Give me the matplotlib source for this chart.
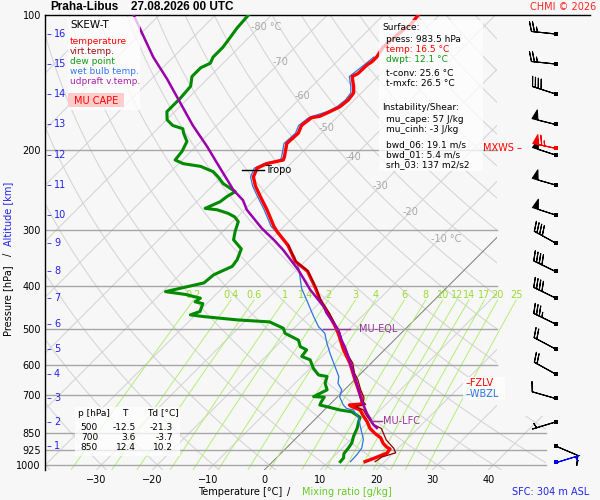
# coding:utf-8
import numpy as np
import matplotlib
matplotlib.use("Agg")
from matplotlib import pyplot as plt
from matplotlib import transforms as mtransforms
from matplotlib.patches import Polygon, Rectangle
from matplotlib.ticker import NullLocator

plt.rcParams['font.family'] = ['DejaVu Sans']
plt.rcParams['font.size'] = 7

# ---- sounding (hPa / degC) ----
t_p = [983.5, 965, 941, 922, 912, 896, 870, 851, 829, 801, 778, 755, 742, 736, 732, 709, 681,
       647, 594, 555, 510, 492, 460, 430, 404, 371, 353, 325, 303, 295, 271, 253, 240, 229,
       219, 214, 210, 207, 193, 183, 176, 169, 168, 164, 160, 154.5, 149, 144, 137, 135, 129,
       127, 124, 118, 113, 108, 105, 100]
t_val = [16.5, 17.6, 18.9, 18.7, 17.7, 16.5, 15.0, 13.2, 11.4, 9.7, 8.0, 6.4, 4.3, 3.6, 5.7, 4.4, 2.5,
         0.1, -3.8, -7.3, -11.2, -13.0, -16.6, -20.4, -23.4, -27.8, -31.7, -35.9, -40.3, -41.8, -46.0, -49.6, -52.3, -54.3,
         -55.2, -54.3, -52.0, -52.3, -54.3, -54.1, -54.9, -54.5, -53.3, -52.3, -51.4, -51.1, -51.4, -52.6, -54.6, -54.1, -54.0,
         -53.7, -53.7, -54.3, -54.1, -53.8, -53.4, -53.8]

tv_p = [983.5, 960, 940, 918, 880, 830, 811, 778, 755, 742, 734, 724, 709, 681, 647, 625, 594, 576,
        555, 528, 510, 492, 460, 430, 404, 371, 353, 325]
tv_val = [18.3, 18.7, 20.4, 19.2, 16.4, 13.5, 11.1, 8.6, 7.0, 5.0, 6.4, 5.5, 4.9, 2.9, 0.6, -1.2, -3.3, -5.0,
          -6.9, -9.4, -10.9, -12.8, -16.4, -20.3, -23.3, -27.7, -31.6, -35.8]

td_p = [983.5, 965, 944, 918, 894, 863, 828, 801, 784, 775, 762, 755, 742, 736, 724, 707, 705, 681, 659, 636,
        631, 610, 584, 574, 555, 546, 528, 510, 497, 481, 476, 472, 468, 464, 456, 438, 434, 426, 418, 412,
        394, 378, 362, 350, 331, 316, 303, 288, 281, 276, 271, 269, 260, 253, 247, 237, 229, 223, 217, 214,
        210, 201, 191, 183, 179, 176, 171, 164, 159, 153, 144, 137, 131, 128, 124, 118, 114, 107, 100]
td_val = [12.1, 12.0, 11.3, 11.1, 10.8, 9.9, 9.1, 8.2, 7.7, 6.7, 5.2, 2.8, -0.2, -1.7, -2.0, -2.3, -4.3, -3.1, -4.6, -5.5,
          -7.3, -9.4, -11.5, -13.6, -13.9, -15.6, -17.1, -20.7, -21.9, -25.5, -31.7, -35.0, -38.3, -40.9, -39.8, -40.7, -42.4, -42.1, -45.4, -49.5,
          -44.2, -43.9, -42.1, -42.4, -43.6, -46.6, -47.8, -49.0, -50.5, -52.3, -54.9, -57.3, -55.8, -55.5, -54.9, -58.5, -60.6, -62.4, -65.6, -69.2,
          -71.3, -71.6, -72.5, -74.6, -75.5, -77.9, -79.9, -81.4, -81.4, -81.4, -81.7, -83.2, -83.2, -82.3, -82.9, -82.9, -83.2, -83.8, -84.1]

tw_p = [983.5, 950, 918, 877, 849, 822, 789, 755, 749, 736, 706, 681, 659, 636, 594, 565, 536, 510, 493, 468,
        430, 405, 368, 345, 333, 311, 295, 271, 253, 240, 229, 219, 214, 210, 207, 193, 183, 176, 169, 164,
        160, 154.5, 149, 144, 137, 129, 124]
tw_val = [13.9, 13.8, 13.5, 12.2, 10.8, 9.4, 7.7, 5.2, 3.7, 2.5, 0.4, -0.5, -2.3, -3.4, -6.7, -9.1, -11.5, -13.6, -15.9, -18.6,
          -22.8, -25.8, -29.6, -32.6, -34.7, -38.6, -42.3, -46.5, -50.1, -52.8, -54.8, -55.7, -54.8, -52.5, -52.8, -54.8, -54.6, -55.4, -55.0, -52.8,
          -51.9, -51.6, -51.9, -53.1, -55.1, -54.5, -54.2]

par_p = [828, 814, 792, 768, 736, 706, 676, 642, 609, 579, 550, 528, 501, 459, 446, 408, 369, 333, 317, 298,
         271, 258, 245, 219, 196, 176, 157, 139, 124, 109, 100]
par_val = [12.6, 11.4, 9.9, 8.2, 6.1, 4.1, 2.2, -0.2, -2.6, -4.9, -7.3, -9.4, -11.8, -17.0, -18.4, -24.0, -29.6, -35.9, -39.2, -43.6,
           -49.6, -52.0, -55.5, -61.8, -68.0, -74.3, -80.5, -87.1, -93.6, -100.2, -104.6]

# heights 1..16 km, their pressure, and the wind there (deg, kt)
alt_km = list(range(1, 17))
alt_p = [907.6, 802.8, 711.7, 628.0, 552.5, 486.2, 425.6, 371.6, 321.2, 278.3, 238.7, 204.7, 175.1, 149.8, 128.5, 110.2]
wind_dir = [113, 253, 286, 299, 298, 296, 296, 296, 299, 288, 286, 288, 284, 288, 276, 276]
wind_spd = [10, 5, 10, 20, 20, 35, 40, 40, 40, 50, 50, 50, 50, 40, 25, 25]
sfc_p, sfc_dir, sfc_spd = 983.5, 73, 5
mxws_p, mxws_dir, mxws_spd = 197.5, 282, 65

# special levels
tropo_p = 221
lfc_p = 797.5
eql_p = 499.5
fzlv_p = 656
wbzl_p = 696

# surface / index values and the small table
sfc_temp, sfc_dwpt = 16.5, 12.1
t_conv, t_mxfc = 25.6, 26.5
mu_cape, mu_cinh = 57, -3
bwd_06, bwd_01, srh_03 = 19.1, 5.4, 137
tab_p = [500, 700, 850]
tab_t = [-12.5, 3.6, 12.4]
tab_td = [-21.3, -3.7, 10.2]

plevs = [100, 200, 300, 400, 500, 600, 700, 850, 925, 1000]
mr_vals = [0.2, 0.4, 0.6, 1, 1.4, 2, 3, 4, 6, 8, 10, 12, 14, 17, 20, 25]
iso_lab_t = [-80, -70, -60, -50, -40, -30, -20, -10]
iso_lab_p = [106.3, 127.2, 151.5, 178.4, 206.9, 240.0, 274.1, 314.1]

# ---- skew-T geometry ----
P_BOT = 1026.4
SKEW = 34.9
XL, XR = -39.16, 58.16
X_HI, X_LO = 41.55, 50.3
XB = 52.0
BG = '#f7f7f7'


def skx(t, p):
    return np.asarray(t, float) + SKEW * np.log(P_BOT / np.asarray(p, float))


def interp_p(p0, pp, tt):
    return np.interp(np.log(p0), np.log(pp[::-1]), tt[::-1])


fig = plt.figure(figsize=(6, 5), dpi=100, facecolor=BG)
ax = fig.add_axes([45 / 600, 30 / 500, 545 / 600, 455 / 500])
ax.set_facecolor(BG)
ax.set_yscale('log')
ax.set_ylim(P_BOT, 100)
ax.set_xlim(XL, XR)
pix = mtransforms.Affine2D().scale(1 / 600, -1 / 500).translate(0, 1) + fig.transFigure
bl = mtransforms.blended_transform_factory(pix, ax.transData)

# background grid, clipped like the original
clip = Polygon([(XL, P_BOT), (XL, 100), (X_HI, 100), (X_HI, 780), (X_LO, 780), (X_LO, P_BOT)],
               closed=True, transform=ax.transData, fc='none', ec='none')
pp = np.geomspace(100, P_BOT, 80)
for t0 in range(-140, 50, 10):
    if t0 == 0:
        ln, = ax.plot(skx(t0, pp), pp, color='#7a7a7a', lw=0.7, zorder=1.2)
    else:
        ln, = ax.plot(skx(t0, pp), pp, color='#d6d6d6', lw=0.8, zorder=1)
    ln.set_clip_path(clip)
for th in range(-40, 230, 10):
    tt = (th + 273.15) * (pp / 1000.0) ** 0.2857 - 273.15
    ln, = ax.plot(skx(tt, pp), pp, color='#d6d6d6', lw=0.8, zorder=1)
    ln.set_clip_path(clip)

for t0, p0 in zip(iso_lab_t, iso_lab_p):
    if t0 in (-80, -10):
        ax.annotate(f"{t0} °C", (skx(t0, p0), p0), xytext=(-6, 0), textcoords='offset points',
                    ha='left', va='center', color='#a8a8a8', fontsize=7, zorder=2)
    else:
        ax.text(skx(t0, p0), p0, f"{t0}", ha='center', va='center', color='#a8a8a8', fontsize=7, zorder=2)

# mixing ratio lines
pm = np.geomspace(430, P_BOT, 40)
for w in mr_vals:
    e = w * pm / (622.0 + w)
    a = np.log(e / 6.112)
    td = 243.5 * a / (17.67 - a)
    ax.plot(skx(td, pm), pm, color='#b4ee7a', lw=0.7, zorder=1.5)
    ax.text(skx(td[0], 430), 419, f"{w:g}", ha='center', va='center', color='#99dd33', fontsize=7, zorder=2)

# isobars
for p0 in plevs[1:]:
    xe = X_LO if p0 >= 850 else X_HI
    ax.plot([XL, xe], [p0, p0], color='#a6a6a6', lw=1, zorder=1.8)

# CAPE area
pc = np.linspace(730, 772, 40)
te = interp_p(pc, t_p, t_val)
tpar = interp_p(pc, par_p, par_val)
ax.fill_betweenx(pc, skx(te, pc), skx(tpar, pc), where=tpar > te, color='#f3d0c0', lw=0, zorder=3)

# profiles
ax.plot(skx(td_val, td_p), td_p, color='#008a00', lw=2.2, zorder=4)
ax.plot(skx(tw_val, tw_p), tw_p, color='#2f74e0', lw=0.9, zorder=4.5)
ax.plot(skx(t_val, t_p), t_p, color='#ff0000', lw=2.4, zorder=5)
ax.plot(skx(tv_val, tv_p), tv_p, color='#8b0000', lw=0.9, zorder=5.5)
ax.plot(skx(par_val, par_p), par_p, color='#9900aa', lw=1.8, zorder=6)

# tropopause, LFC, EQL
tt_trop = interp_p(tropo_p, t_p, t_val)
xt = skx(tt_trop, tropo_p)
ax.plot([xt - 2.5, xt + 1.4], [tropo_p, tropo_p], color='k', lw=1, zorder=7)
ax.text(xt + 1.6, tropo_p, 'Tropo', ha='left', va='center', fontsize=7, zorder=7)

x_lfc = skx(interp_p(lfc_p, par_p, par_val), lfc_p)
ax.plot([x_lfc, x_lfc + 1.9], [lfc_p, lfc_p], color='#993399', lw=1, zorder=7)
ax.text(x_lfc + 2.2, lfc_p, 'MU-LFC', ha='left', va='center', color='#993399', fontsize=7, zorder=7)
x_eql = skx(interp_p(eql_p, par_p, par_val), eql_p)
ax.plot([x_eql - 2.7, x_eql + 2.1], [eql_p, eql_p], color='#993399', lw=1, zorder=7)
ax.text(x_eql + 3.7, eql_p, 'MU-EQL', ha='left', va='center', color='#993399', fontsize=7, zorder=7)

# FZLV / WBZL
ax.add_patch(Rectangle((463, 377), 42, 23, transform=pix, fc='white', ec='none', alpha=0.75, zorder=7))
ax.text(466, fzlv_p, '–FZLV', transform=bl, color='#ff0000', ha='left', va='center', fontsize=7, zorder=8)
ax.text(466, wbzl_p, '–WBZL', transform=bl, color='#2f74e0', ha='left', va='center', fontsize=7, zorder=8)

# altitude scale
for km, p0 in zip(alt_km, alt_p):
    ax.text(47, p0, '–', transform=bl, color='#2222ee', ha='left', va='center', fontsize=7, zorder=8)
    ax.text(54, p0, str(km), transform=bl, color='#2222ee', ha='left', va='center', fontsize=7, zorder=8)

# wind barbs
d = np.radians(wind_dir)
s = np.array(wind_spd, float)
ax.barbs(np.full(len(alt_p), XB), alt_p, -s * np.sin(d), -s * np.cos(d), length=5.9,
         lw=0.8, color='k', zorder=9, clip_on=False)
ax.scatter(np.full(len(alt_p), XB), alt_p, marker='s', s=5, color='k', lw=0, zorder=10)
dm = np.radians(mxws_dir)
ax.barbs([XB], [mxws_p], [-mxws_spd * np.sin(dm)], [-mxws_spd * np.cos(dm)], length=5.9,
         lw=0.8, color='#ff0000', zorder=9.5, clip_on=False)
ax.scatter([XB], [mxws_p], marker='s', s=5, color='#ff0000', lw=0, zorder=10)
ax.text(483, mxws_p, 'MXWS –', transform=bl, color='#ff0000', ha='left', va='center', fontsize=7, zorder=8)
ds = np.radians(sfc_dir)
ax.barbs([XB], [sfc_p], [-sfc_spd * np.sin(ds)], [-sfc_spd * np.cos(ds)], length=5.9,
         lw=0.8, color='#0000ee', zorder=9.5, clip_on=False)
ax.scatter([XB], [sfc_p], marker='s', s=5, color='#0000ee', lw=0, zorder=10)

# axes cosmetics
ax.set_yticks(plevs, labels=[str(p) for p in plevs])
ax.yaxis.set_minor_locator(NullLocator())
ax.set_xticks([-30, -20, -10, 0, 10, 20, 30, 40])
ax.tick_params(axis='both', length=0, labelsize=7)
ax.tick_params(axis='y', pad=3)
ax.tick_params(axis='x', pad=3.5)
for side in ('right', 'bottom'):
    ax.spines[side].set_visible(False)
for side in ('left', 'top'):
    ax.spines[side].set_linewidth(1)


# text boxes (half transparent white, like the original)
def box(x0, y0, x1, y1, fc='white', alpha=0.75):
    fig.add_artist(Rectangle((x0, y0), x1 - x0, y1 - y0, transform=pix, fc=fc, ec='none',
                             alpha=alpha, zorder=10))


def txt(x, y, s, **kw):
    kw.setdefault('va', 'center')
    kw.setdefault('fontsize', 6.5)
    fig.text(x, y, s, transform=pix, zorder=11, **kw)


box(68, 17, 140, 110)
txt(70, 25, 'SKEW-T', fontsize=7.5)
txt(70, 42, 'temperature', color='#ff0000')
txt(70, 52, 'virt.temp.', color='#a01010')
txt(70, 62, 'dew point', color='#119911')
txt(70, 72, 'wet bulb temp.', color='#3377ee')
txt(70, 82, 'udpraft v.temp.', color='#aa22aa')
box(68, 93, 124, 107, fc='#ffcccc', alpha=1)
txt(96, 100.5, 'MU CAPE', color='#ff0000', ha='center', fontsize=7)

box(379, 20, 483, 171)
txt(382, 28, 'Surface:')
txt(386, 40, f'press: {sfc_p} hPa')
txt(386, 50, f'temp: {sfc_temp} °C', color='#ff0000')
txt(386, 60, f'dwpt: {sfc_dwpt} °C', color='#119911')
txt(386, 74, f't-conv: {t_conv} °C')
txt(386, 84, f't-mxfc: {t_mxfc} °C')
txt(382, 108, 'Instability/Shear:')
txt(386, 119, f'mu_cape: {mu_cape} J/kg')
txt(386, 129, f'mu_cinh: {mu_cinh} J/kg')
txt(386, 145, f'bwd_06: {bwd_06} m/s')
txt(386, 155, f'bwd_01: {bwd_01} m/s')
txt(386, 165, f'srh_03: {srh_03} m2/s2')

box(75, 407, 180, 456)
txt(78, 413, 'p [hPa]')
txt(125, 413, 'T', ha='center')
txt(147, 413, 'Td [°C]')
for i, (p0, t0, d0) in enumerate(zip(tab_p, tab_t, tab_td)):
    yy = 428 + 10 * i
    txt(98, yy, str(p0), ha='right')
    txt(136, yy, f'{t0:.1f}', ha='right')
    txt(173, yy, f'{d0:.1f}', ha='right')

# titles and axis labels
txt(50, 7, 'Praha-Libus', family=['Liberation Sans', 'DejaVu Sans'], weight='bold', fontsize=8.5)
txt(131, 7, '27.08.2026 00 UTC', family=['Liberation Sans', 'DejaVu Sans'], weight='bold', fontsize=8.5)
txt(596, 7, 'CHMI © 2026', color='#ff2222', ha='right', fontsize=7)
txt(198, 492, 'Temperature [°C]', fontsize=7)
txt(287, 492, '/', fontsize=7)
txt(302, 492, 'Mixing ratio [g/kg]', color='#66cc22', fontsize=7)
txt(512, 492, 'SFC: 304 m ASL', color='#2222ee', fontsize=7)
txt(8, 336, 'Pressure [hPa]', rotation=90, rotation_mode='anchor', ha='left', fontsize=7)
txt(8, 256, '/', rotation=90, rotation_mode='anchor', ha='left', fontsize=7)
txt(8, 246, 'Altitude [km]', rotation=90, rotation_mode='anchor', ha='left', color='#2222ee', fontsize=7)

fig.savefig('out.png', dpi=100, facecolor=fig.get_facecolor())
